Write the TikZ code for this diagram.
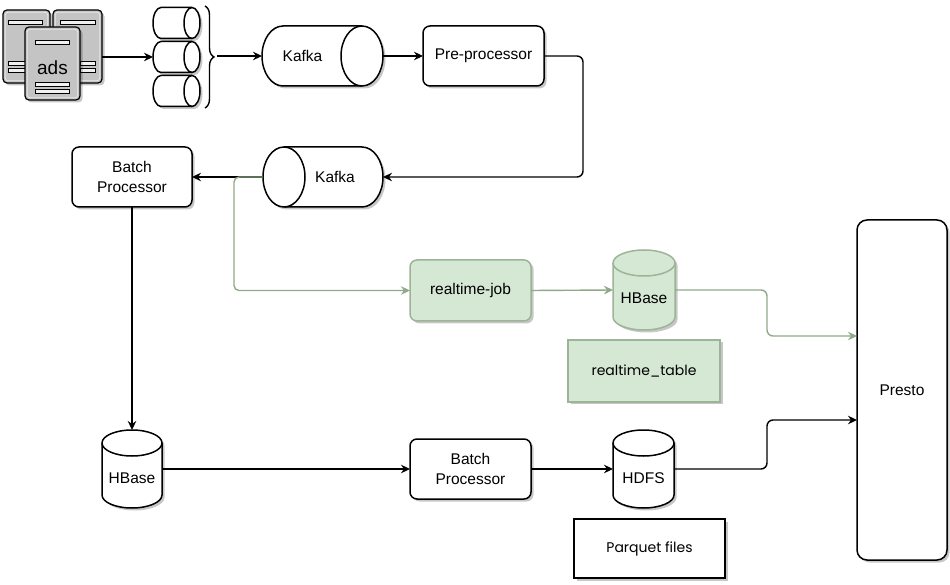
\documentclass[tikz,border=0pt]{standalone}
\usepackage{fontspec}
\setmainfont{Liberation Sans}
\newfontfamily\handfont{Poppins}
\usetikzlibrary{arrows.meta,shadows,decorations.pathreplacing,calc}
\definecolor{gfill}{HTML}{D5E8D4}
\definecolor{gline}{HTML}{9DB497}
\definecolor{gedge}{HTML}{90A98A}
\definecolor{docfill}{HTML}{C4C4C4}
\tikzset{
  every node/.style={font=\fontsize{15.5}{19.5}\selectfont},
  shd/.style={drop shadow={shadow xshift=2.5pt,shadow yshift=-2.5pt,opacity=0.22,fill=black}},
  box/.style={draw, line width=1.5pt, rounded corners=7pt, fill=white, minimum width=121pt, minimum height=60pt, align=center, inner sep=0pt, outer sep=0pt, shd},
  gbox/.style={box, draw=gline, fill=gfill},
  note/.style={draw, line width=1.5pt, fill=white, inner sep=0pt, outer sep=0pt, shd, font=\handfont\fontsize{14}{17}\selectfont},
  holder/.style={inner sep=0pt, outer sep=0pt},
  cyl/.style={draw, line width=1.5pt, fill=white},
  arr/.style={line width=1.4pt, -{Stealth[length=9pt,width=8.5pt]}},
  garr/.style={arr, draw=gedge},
  doc/.style={draw, line width=1.2pt, fill=docfill, rounded corners=4pt, inner sep=0pt, outer sep=0pt, shd},
  docin/.style={draw=white!82!gray, line width=0.8pt, rounded corners=3pt},
  bar/.style={draw, line width=0.8pt, fill=white!88!gray},
}
% horizontal cylinder: #2 name, #3 x radius, #4 side of the full ellipse (R or L), #5 text xshift, #6 text
\newcommand\hcyl[6][]{%
  \draw[cyl,shd,#1] let \p1=(#2.north west),\p2=(#2.south east),\n1={(\y1-\y2)/2} in
    (\x1+#3pt,\y1) -- (\x2-#3pt,\y1) arc[start angle=90,end angle=-90,x radius=#3pt,y radius=\n1]
    -- (\x1+#3pt,\y2) arc[start angle=270,end angle=90,x radius=#3pt,y radius=\n1] -- cycle;
  \ifx R#4
  \draw[cyl,fill=none,#1] let \p1=(#2.north west),\p2=(#2.south east),\n1={(\y1-\y2)/2} in
    (\x2-#3pt,\y1) arc[start angle=90,end angle=270,x radius=#3pt,y radius=\n1];
  \else
  \draw[cyl,fill=none,#1] let \p1=(#2.north west),\p2=(#2.south east),\n1={(\y1-\y2)/2} in
    (\x1+#3pt,\y1) arc[start angle=90,end angle=-90,x radius=#3pt,y radius=\n1];
  \fi
  \node[xshift=#5pt] (#2-t) at (#2.center) {#6};
}
% vertical cylinder: #2 name, #3 y radius, #4 text yshift, #5 text
\newcommand\vcyl[5][]{%
  \draw[cyl,shd,#1] let \p1=(#2.north west),\p2=(#2.south east),\n1={(\x2-\x1)/2} in
    (\x1,\y1-#3pt) -- (\x1,\y2+#3pt) arc[start angle=180,end angle=360,x radius=\n1,y radius=#3pt]
    -- (\x2,\y1-#3pt) arc[start angle=0,end angle=180,x radius=\n1,y radius=#3pt] -- cycle;
  \draw[cyl,fill=none,#1] let \p1=(#2.north west),\p2=(#2.south east),\n1={(\x2-\x1)/2} in
    (\x1,\y1-#3pt) arc[start angle=180,end angle=360,x radius=\n1,y radius=#3pt];
  \node[yshift=#4pt] (#2-t) at (#2.center) {#5};
}
\begin{document}
\begin{tikzpicture}[x=1pt,y=1pt]
\fill[white] (0,0) rectangle (950,584);
\useasboundingbox (0,0) rectangle (950,584);

% ---- ads icon ----
\node[doc, minimum width=47pt, minimum height=73pt] (adsL) at (26.5,537.5) {};
\draw[docin] ([shift={(2.2pt,-2.2pt)}]adsL.north west) rectangle ([shift={(-2.2pt,2.2pt)}]adsL.south east);
\node[doc, minimum width=49pt, minimum height=73pt] (adsR) at (77.5,537.5) {};
\draw[docin] ([shift={(2.2pt,-2.2pt)}]adsR.north west) rectangle ([shift={(-2.2pt,2.2pt)}]adsR.south east);
\draw[bar] (8,560) rectangle (42,564);
\draw[bar] (8,519) rectangle (25,523);
\draw[bar] (8,512) rectangle (25,516);
\draw[bar] (60,560) rectangle (95,564);
\draw[bar] (80,519) rectangle (95,523);
\draw[bar] (80,512) rectangle (95,516);
\node[doc, minimum width=55pt, minimum height=73pt] (ads) at (52.5,520.5) {};
\draw[docin] ([shift={(2.2pt,-2.2pt)}]ads.north west) rectangle ([shift={(-2.2pt,2.2pt)}]ads.south east);
\node[font=\fontsize{19}{22}\selectfont, yshift=-4.5pt] (ads-t) at (ads.center) {ads};
\draw[bar] (35,540) rectangle (69,544);
\draw[bar] (35,498) rectangle (69,502);
\draw[bar] (35,491) rectangle (69,495);

% ---- small queue cylinders ----
\node[holder, minimum width=47pt, minimum height=31pt] (c1) at (176.5,561) {};
\node[holder, minimum width=47pt, minimum height=31pt] (c2) at (176.5,527) {};
\node[holder, minimum width=47pt, minimum height=31pt] (c3) at (176.5,493) {};
\hcyl{c1}{8}{R}{0}{}
\hcyl{c2}{8}{R}{0}{}
\hcyl{c3}{8}{R}{0}{}
\draw[line width=1.4pt, decorate, decoration={brace, amplitude=9pt}]
  ([xshift=5pt,yshift=1.5pt]c1.north east) -- ([xshift=5pt,yshift=-1.5pt]c3.south east);
\coordinate (brt) at (217,528);

% ---- main nodes ----
\node[holder, minimum width=121pt, minimum height=60pt] (k1) at (322.5,528) {};
\hcyl{k1}{21}{R}{-20}{Kafka}
\node[box] (pp) at (483.5,528) {Pre-processor};
\node[holder, minimum width=120pt, minimum height=60pt] (k2) at (323,407) {};
\hcyl{k2}{21}{L}{12}{Kafka}
\node[box, minimum width=120pt] (bp1) at (132,407) {Batch\\Processor};

\node[holder, minimum width=60pt, minimum height=78pt] (hb1) at (132,115) {};
\vcyl{hb1}{13}{-9}{HBase}
\node[box] (bp2) at (470.5,115) {Batch\\Processor};
\node[holder, minimum width=61pt, minimum height=78pt] (hdfs) at (643.5,115) {};
\vcyl{hdfs}{13}{-9}{HDFS}
\node[note, minimum width=151pt, minimum height=59pt] (parq) at (649.5,35.5) {Parquet files};

\node[gbox, minimum height=61pt] (rtj) at (470.5,293.5) {realtime-job};
\node[holder, minimum width=62pt, minimum height=80pt] (hbg) at (644,294) {};
\vcyl[draw=gline,fill=gfill]{hbg}{13}{-8}{HBase}
\node[note, draw=gline, fill=gfill, minimum width=152pt, minimum height=62pt] (rtt) at (644,213) {realtime\_table};

\node[box, rounded corners=10pt, minimum width=90pt, minimum height=340pt] (presto) at (902,194) {Presto};

% ---- connectors ----
\draw[arr] (c2.west -| adsR.east) -- (c2.west);
\draw[arr] (brt) -- (k1.west);
\draw[arr] (k1.east) -- (pp.west);
\draw[arr, rounded corners=6pt] (pp.east) -- ++(39,0) |- (k2.east);
\draw[arr] (k2.west) -- (bp1.east);
\draw[garr, rounded corners=5pt] (k2.west) -- ++(-29,0) |- (rtj.west);
\draw[garr] (rtj.east) -- (hbg.west);
\draw[garr, rounded corners=6pt] (hbg.east) -- ++(92,0) |- ([yshift=54pt]presto.west);
\draw[arr] (bp1.south) -- (hb1.north);
\draw[arr] (hb1.east) -- (bp2.west);
\draw[arr] (bp2.east) -- (hdfs.west);
\draw[arr, rounded corners=6pt] (hdfs.east) -- ++(93,0) |- ([yshift=-30pt]presto.west);
\end{tikzpicture}
\end{document}
